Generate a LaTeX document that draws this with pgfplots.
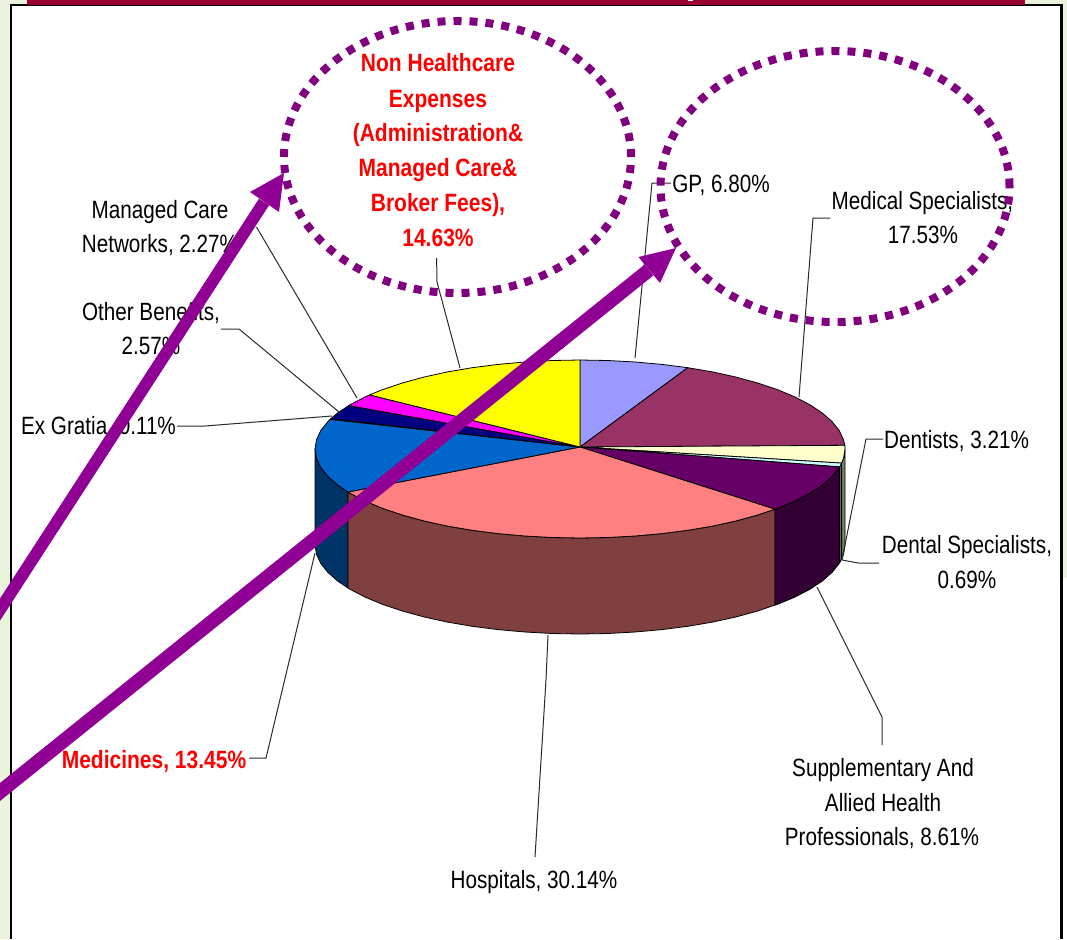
\documentclass[border=0pt]{standalone}
\usepackage{pgfplots}
\pgfplotsset{compat=1.18}
\usepackage{fontspec}
\setmainfont{Liberation Sans}
\newfontfamily\lab[FakeStretch=0.827]{Liberation Sans}
\newfontfamily\labb[FakeStretch=0.84]{Liberation Sans Bold}
\definecolor{bggreen}{HTML}{EAF3DC}
\definecolor{barmaroon}{HTML}{990033}
\definecolor{arrowc}{HTML}{910094}
\definecolor{dotc}{HTML}{800080}
\definecolor{leader}{HTML}{2A2A2A}
\definecolor{cGP}{HTML}{9999FF}
\definecolor{cMed}{HTML}{993366}
\definecolor{cDen}{HTML}{FFFFCC}
\definecolor{cDS}{HTML}{CCFFFF}
\definecolor{cSup}{HTML}{660066}
\definecolor{cHos}{HTML}{FF8080}
\definecolor{cMdc}{HTML}{0066CC}
\definecolor{cExG}{HTML}{CCCCFF}
\definecolor{cOth}{HTML}{000080}
\definecolor{cMan}{HTML}{FF00FF}
\definecolor{cNon}{HTML}{FFFF00}
\definecolor{wDen}{HTML}{808066}
\definecolor{wDS}{HTML}{668080}
\definecolor{wSup}{HTML}{330033}
\definecolor{wHos}{HTML}{804040}
\definecolor{wMdc}{HTML}{003366}
\tikzset{
  tx/.style={font=\lab\fontsize{25}{25}\selectfont,text=black,anchor=base,inner sep=0pt},
  txb/.style={font=\labb\fontsize{25}{25}\selectfont,text=red,anchor=base,inner sep=0pt},
}
\pgfplotsset{
  sl/.style={fill=#1,draw=black,line width=0.8pt,line join=round},
  ld/.style={draw=leader,line width=1pt,no marks},
}
\begin{document}
\begin{tikzpicture}
\begin{axis}[
  at={(0pt,0pt)},anchor=south west,
  scale only axis,width=1067pt,height=939pt,
  xmin=0,xmax=1067,ymin=0,ymax=939,y dir=reverse,
  hide axis,clip=true,
]
% backdrop
\addplot[fill=bggreen,draw=none] coordinates {(0,0)(1067,0)(1067,578)(1063,578)(1063,939)(0,939)} --cycle;
\addplot[fill=white,draw=none] coordinates {(1063,578)(1067,578)(1067,939)(1063,939)} --cycle;
\addplot[fill=white,draw=none] coordinates {(11,5)(1061,5)(1061,939)(11,939)} --cycle;
\addplot[draw=black,line width=2.6pt,no marks] coordinates {(11,939)(11,5)(27,5)};
\addplot[draw=black,line width=2.6pt,no marks] coordinates {(1025,5)(1061.5,5)(1061.5,939)};
\addplot[fill=barmaroon,draw=none] coordinates {(27,0)(1025,0)(1025,5)(27,5)} --cycle;
\addplot[draw=black,line width=1.6pt,no marks] coordinates {(27,5.5)(1025,5.5)};
\addplot[fill=white,draw=none] coordinates {(688,0)(693,0)(693,1.2)(688,1.2)} --cycle;
% pie walls
\addplot[sl=wMdc] coordinates {(348,492)(337.9,485.2)(328,476.5)(320.8,467.5)(316.5,458.3)(315,449)(315,545)(316.5,554.3)(320.8,563.5)(328,572.5)(337.9,581.2)(348,588)} --cycle;
\addplot[sl=wHos] coordinates {(775,509)(757.3,515.1)(735.8,521)(712.5,526.1)(687.8,530.3)(661.9,533.6)(635.1,536)(607.7,537.5)(580,538)(552.3,537.5)(524.9,536)(498.1,533.6)(472.2,530.3)(447.5,526.1)(424.2,521)(402.7,515.1)(383.1,508.6)(365.6,501.3)(350.5,493.5)(348,492)(348,588)(350.5,589.5)(365.6,597.3)(383.1,604.6)(402.7,611.1)(424.2,617)(447.5,622.1)(472.2,626.3)(498.1,629.6)(524.9,632)(552.3,633.5)(580,634)(607.7,633.5)(635.1,632)(661.9,629.6)(687.8,626.3)(712.5,622.1)(735.8,617)(757.3,611.1)(775,605)} --cycle;
\addplot[sl=wSup] coordinates {(839.6,466.9)(832,476.5)(822.1,485.2)(809.5,493.5)(794.4,501.3)(776.9,508.6)(775,509)(775,605)(776.9,604.6)(794.4,597.3)(809.5,589.5)(822.1,581.2)(832,572.5)(839.6,562.9)} --cycle;
\addplot[sl=wDS] coordinates {(841.6,463.1)(839.6,466.9)(839.6,562.9)(841.6,559.1)} --cycle;
\addplot[sl=wDen] coordinates {(845,449)(843.5,458.3)(841.6,463.1)(841.6,559.1)(843.5,554.3)(845,545)} --cycle;
% pie top
\addplot[sl=cGP] coordinates {(580,447)(580,360)(607.7,360.5)(635.1,362)(661.9,364.4)(687.8,367.7)} --cycle;
\addplot[sl=cMed] coordinates {(580,447)(687.8,367.7)(712.5,371.9)(735.8,377)(757.3,382.9)(776.9,389.4)(794.4,396.7)(809.5,404.5)(822.1,412.8)(832,421.5)(839.2,430.5)(843.5,439.7)(844.8,445.3)} --cycle;
\addplot[sl=cDen] coordinates {(580,447)(844.8,445.3)(845,449)(843.5,458.3)(841.6,463.1)} --cycle;
\addplot[sl=cDS] coordinates {(580,447)(841.6,463.1)(839.6,466.9)} --cycle;
\addplot[sl=cSup] coordinates {(580,447)(839.6,466.9)(832,476.5)(822.1,485.2)(809.5,493.5)(794.4,501.3)(776.9,508.6)(775,509.2)} --cycle;
\addplot[sl=cHos] coordinates {(580,447)(775,509.2)(757.3,515.1)(735.8,521)(712.5,526.1)(687.8,530.3)(661.9,533.6)(635.1,536)(607.7,537.5)(580,538)(552.3,537.5)(524.9,536)(498.1,533.6)(472.2,530.3)(447.5,526.1)(424.2,521)(402.7,515.1)(383.1,508.6)(365.6,501.3)(350.5,493.5)(348,492)} --cycle;
\addplot[sl=cMdc] coordinates {(580,447)(348,492)(337.9,485.2)(328,476.5)(320.8,467.5)(316.5,458.3)(315,449)(316.5,439.7)(320.8,430.5)(328,421.5)(330.2,419.3)} --cycle;
\addplot[sl=cExG] coordinates {(580,447)(330.2,419.3)(330.8,418.7)} --cycle;
\addplot[sl=cOth] coordinates {(580,447)(330.8,418.7)(337.9,412.8)(348.7,405.6)} --cycle;
\addplot[sl=cMan] coordinates {(580,447)(348.7,405.6)(350.5,404.5)(365.6,396.7)(369.5,394.9)} --cycle;
\addplot[sl=cNon] coordinates {(580,447)(369.5,394.9)(383.1,389.4)(402.7,382.9)(424.2,377)(447.5,371.9)(472.2,367.7)(498.1,364.4)(524.9,362)(552.3,360.5)(580,360)} --cycle;
% leader lines
\addplot[ld] coordinates {(436.6,258)(437,282)(460,368)};
\addplot[ld] coordinates {(256.5,227)(357,398)};
\addplot[ld] coordinates {(221,329)(239,329)(339,412)};
\addplot[ld] coordinates {(177,426)(205,426)(332,416)};
\addplot[ld] coordinates {(671,183)(652,183)(635,358)};
\addplot[ld] coordinates {(830,218)(813,218)(799,397)};
\addplot[ld] coordinates {(883,439)(866,439)(842,560)};
\addplot[ld] coordinates {(879,563)(858,563)(842,560)};
\addplot[ld] coordinates {(817,587)(882,717)(882,745)};
\addplot[ld] coordinates {(548,635)(546,680)(535,857)};
\addplot[ld] coordinates {(249,758)(266,758)(315,553)};
% labels
\node[txb] at (axis cs:438,72) {Non Healthcare};
\node[txb] at (axis cs:438,107) {Expenses};
\node[txb] at (axis cs:438,141) {(Administration\&};
\node[txb] at (axis cs:438,176) {Managed Care\&};
\node[txb] at (axis cs:438,211) {Broker Fees),};
\node[txb] at (axis cs:438,246) {14.63\%};
\node[tx] at (axis cs:160,218) {Managed Care};
\node[tx] at (axis cs:160,252) {Networks, 2.27\%};
\node[tx] at (axis cs:151,320) {Other Benefits,};
\node[tx] at (axis cs:151,354) {2.57\%};
\node[tx] at (axis cs:98.5,434) {Ex Gratia, 0.11\%};
\node[txb] at (axis cs:154,768) {Medicines, 13.45\%};
\node[tx] at (axis cs:534,888) {Hospitals, 30.14\%};
\node[tx] at (axis cs:883,776) {Supplementary And};
\node[tx] at (axis cs:883,811) {Allied Health};
\node[tx] at (axis cs:882,845) {Professionals, 8.61\%};
\node[tx] at (axis cs:967,553) {Dental Specialists,};
\node[tx] at (axis cs:967,588) {0.69\%};
\node[tx] at (axis cs:956.5,448) {Dentists, 3.21\%};
\node[tx] at (axis cs:922.5,209) {Medical Specialists,};
\node[tx] at (axis cs:923,243) {17.53\%};
\node[tx] at (axis cs:721,192) {GP, 6.80\%};
% dotted ellipses
\draw[dotc,line width=8pt,dash pattern=on 8pt off 8pt] (axis cs:457.5,157) ellipse [x radius=173.5pt,y radius=136pt];
\draw[dotc,line width=8pt,dash pattern=on 8pt off 8pt] (axis cs:835,186.5) ellipse [x radius=174.5pt,y radius=135.5pt];
% arrows
\addplot[draw=arrowc,line width=12pt,no marks] coordinates {(-10,625)(264,202)};
\addplot[fill=arrowc,draw=none] coordinates {(284,173)(250,192)(279,212)} --cycle;
\addplot[draw=arrowc,line width=14pt,no marks] coordinates {(-10,800)(649,270)};
\addplot[fill=arrowc,draw=none] coordinates {(676,248)(638.5,257)(660,283)} --cycle;
\end{axis}
\end{tikzpicture}
\end{document}
